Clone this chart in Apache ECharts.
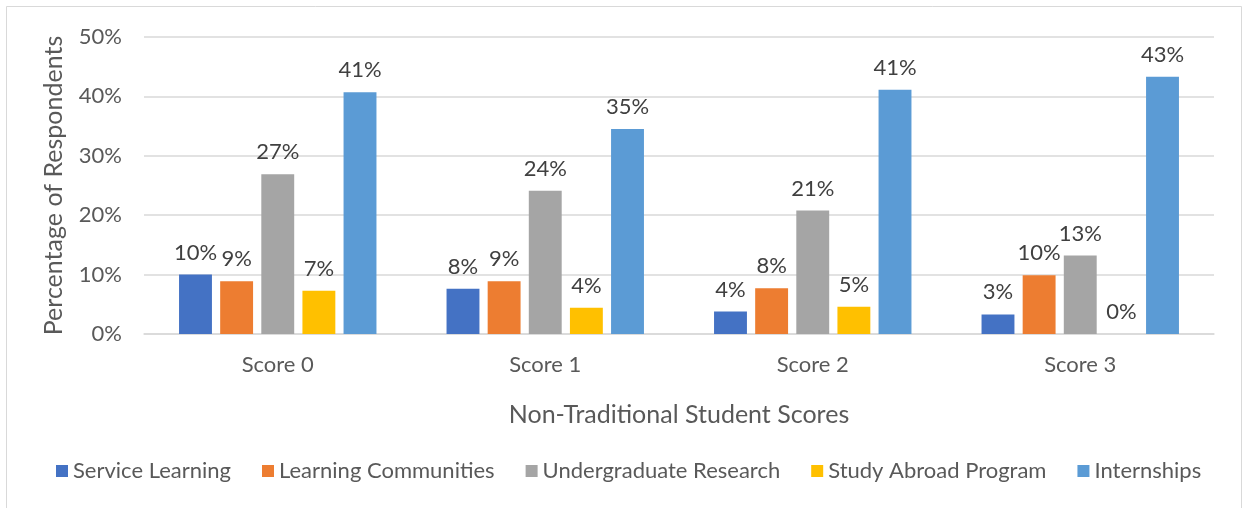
<!DOCTYPE html>
<html>
<head>
<meta charset="utf-8">
<script src="https://cdn.jsdelivr.net/npm/echarts@6/dist/echarts.min.js"></script>
<style>
  html, body { margin: 0; padding: 0; background: #fff; }
  #chart { width: 1244px; height: 508px; }
</style>
</head>
<body>
<div id="chart"></div>
<script>
const categories = ["Score 0", "Score 1", "Score 2", "Score 3"];
const seriesNames = ["Service Learning", "Learning Communities", "Undergraduate Research", "Study Abroad Program", "Internships"];
const serviceLearning = [10.0, 7.6, 3.8, 3.3];
const learningCommunities = [8.9, 8.9, 7.7, 9.9];
const undergradResearch = [26.9, 24.1, 20.8, 13.2];
const studyAbroad = [7.3, 4.4, 4.6, 0];
const internships = [40.7, 34.5, 41.1, 43.3];
const yTicks = [0, 10, 20, 30, 40, 50];

const colors = ["#4472C4", "#ED7D31", "#A5A5A5", "#FFC000", "#5B9BD5"];
const textColor = "#595959";
const fontFamily = "Lato";

const chart = echarts.init(document.getElementById("chart"));

const allData = [serviceLearning, learningCommunities, undergradResearch, studyAbroad, internships];

const series = seriesNames.map((name, i) => ({
  name,
  type: "bar",
  data: allData[i],
  barWidth: "12.3%",
  barGap: "25%",
  itemStyle: { color: colors[i] },
  label: {
    show: true,
    position: "top",
    distance: 11,
    color: "#404040",
    fontSize: 22,
    fontFamily,
    formatter: (p) => Math.round(p.value) + "%",
  },
}));

chart.setOption({
  animation: false,
  backgroundColor: "#fff",
  color: colors,
  textStyle: { fontFamily },
  graphic: [
    {
      type: "rect",
      shape: { x: 6.5, y: 6.5, width: 1235, height: 510 },
      style: { fill: "none", stroke: "#D9D9D9", lineWidth: 1 },
      silent: true,
    },
  ],
  grid: {
    left: 144,
    right: 30,
    top: 37,
    bottom: 174,
  },
  legend: {
    data: seriesNames,
    left: 51,
    top: 455,
    icon: "rect",
    itemWidth: 12,
    itemHeight: 12,
    itemGap: 31,
    textStyle: { color: textColor, fontSize: 22, fontFamily, padding: [0, 0, 0, 0] },
  },
  xAxis: {
    type: "category",
    data: categories,
    name: "Non-Traditional Student Scores",
    nameLocation: "middle",
    nameGap: 68,
    nameTextStyle: { color: textColor, fontSize: 25, fontFamily },
    axisLine: { lineStyle: { color: "#D9D9D9", width: 1.5 } },
    axisTick: { show: false },
    axisLabel: { color: textColor, fontSize: 22, fontFamily, margin: 20 },
  },
  yAxis: {
    type: "value",
    min: yTicks[0],
    max: yTicks[yTicks.length - 1],
    interval: 10,
    name: "Percentage of Respondents",
    nameLocation: "middle",
    nameGap: 78,
    nameTextStyle: { color: textColor, fontSize: 25, fontFamily },
    axisLine: { show: false },
    axisTick: { show: false },
    axisLabel: {
      color: textColor,
      fontSize: 22,
      fontFamily,
      margin: 22,
      formatter: (v) => v + "%",
    },
    splitLine: { lineStyle: { color: "#D9D9D9", width: 1.5 } },
  },
  series,
});
</script>
</body>
</html>
